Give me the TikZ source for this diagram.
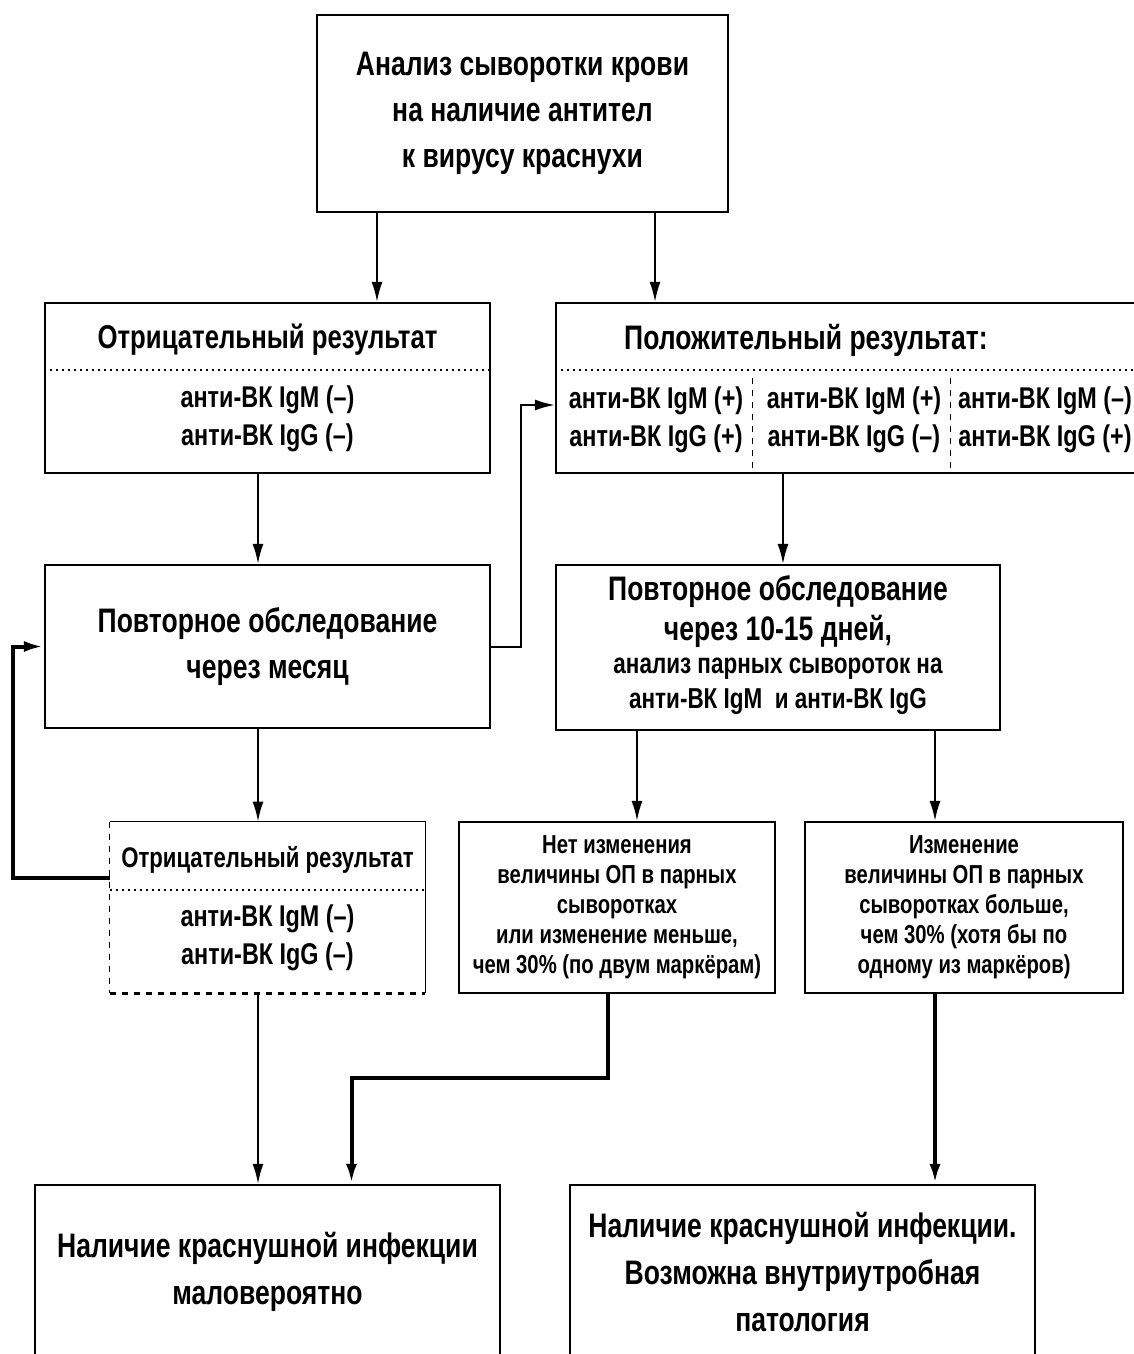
\documentclass[tikz,border=0pt]{standalone}
\usepackage{fontspec}
\setmainfont[FakeStretch=0.78]{Liberation Sans}
\usetikzlibrary{arrows.meta,positioning,calc}

\begin{document}
\begin{tikzpicture}[x=0.5pt,y=-0.5pt,>={Latex[length=10pt,width=5.5pt]},
  box/.style={draw,line width=1.1pt,fill=white,inner sep=0pt},
  big/.style={font=\fontsize{17}{23}\selectfont\bfseries,align=center},
  huge/.style={font=\fontsize{17}{23.5}\selectfont\bfseries,align=center},
  sub/.style={font=\fontsize{15}{19}\selectfont\bfseries,align=center},
  small/.style={font=\fontsize{13}{15}\selectfont\bfseries,align=center},
  link/.style={->,line width=1pt},
  heavy/.style={->,line width=2pt}]
  \useasboundingbox (0,0) rectangle (1134,1354);
  % upper row
  \node[box,big,align=center,minimum width=205.5pt,minimum height=98.5pt] (top) at (522.5,113.5)
    {Анализ сыворотки крови\\на наличие антител\\к вирусу краснухи};
  \node[box,minimum width=222.5pt,minimum height=85pt] (neg1) at (267.5,388) {};
  \node[big,font=\fontsize{16.5}{23}\selectfont\bfseries] (neg1t) at (267.5,340) {Отрицательный результат};
  \node[sub] (neg1r) at (267.5,419) {анти-ВК IgM (–)\\анти-ВК IgG (–)};
  \draw[dotted,line width=1pt] (neg1.west |- 0,370) -- (neg1.east |- 0,370);
  \node[box,minimum width=292pt,minimum height=85pt] (pos) at (848,388) {};
  \node[big] (post) at (806,340) {Положительный результат:};
  \draw[dotted,line width=1pt] (pos.west |- 0,370) -- (pos.east |- 0,370);
  \draw[dashed] (752,378) -- (752,470) (950,378) -- (950,470);
  \foreach \cx/\sm/\sg [count=\i] in {656/+/+, 854/+/–, 1045/–/+}
    \node[sub] (pos\i) at (\cx,420) {анти-ВК IgM (\sm)\\анти-ВК IgG (\sg)};
  % middle row
  \node[box,big,align=center,minimum width=222.5pt,minimum height=81.5pt] (month) at (267.5,646.5)
    {Повторное обследование\\через месяц};
  \node[box,minimum width=222pt,minimum height=82.5pt] (rep) at (778,647.5) {};
  \node[big,font=\fontsize{17}{20}\selectfont\bfseries] (repA) at (778,612) {Повторное обследование\\через 10-15 дней,};
  \node[sub,font=\fontsize{14.4}{17.5}\selectfont\bfseries] (repB) at (778,686) {анализ парных сывороток на\\анти-ВК IgM~~и анти-ВК IgG};
  % lower row
  \node[minimum width=157.5pt,minimum height=85.5pt,fill=white] (neg2) at (267.5,907.5) {};
  \draw[line width=0.8pt] (neg2.north west) -- (neg2.north east) -- (neg2.south east);
  \draw[line width=0.8pt,dashed] (neg2.north west) -- (neg2.south west);
  \draw[line width=1.5pt,dashed] (neg2.south west) -- (neg2.south east);
  \node[big,font=\fontsize{14.2}{19}\selectfont\bfseries] (neg2t) at (267.5,860) {Отрицательный результат};
  \node[sub] (neg2r) at (267.5,938) {анти-ВК IgM (–)\\анти-ВК IgG (–)};
  \draw[dotted,line width=1pt] (neg2.west |- 0,890) -- (neg2.east |- 0,890);
  \node[box,small,align=center,minimum width=158pt,minimum height=85.5pt] (nochg) at (617,907.5)
    {Нет изменения\\величины ОП в парных\\сыворотках\\или изменение меньше,\\чем 30\% (по двум маркёрам)};
  \node[box,small,align=center,minimum width=159pt,minimum height=85.5pt] (chg) at (964,907.5)
    {Изменение\\величины ОП в парных\\сыворотках больше,\\чем 30\% (хотя бы по\\одному из маркёров)};
  % results
  \node[box,huge,align=center,minimum width=232.5pt,minimum height=86.5pt] (resneg) at (267.5,1271.5)
    {Наличие краснушной инфекции\\маловероятно};
  \node[box,huge,align=center,minimum width=232.5pt,minimum height=86.5pt] (respos) at (802.5,1271.5)
    {Наличие краснушной инфекции.\\Возможна внутриутробная\\патология};
  % connectors
  \draw[link] (377,0 |- top.south) -- (377,0 |- neg1.north);
  \draw[link] (655,0 |- top.south) -- (655,0 |- pos.north);
  \draw[link] (258,0 |- neg1.south) -- (258,0 |- month.north);
  \draw[link] (month.east) -- ++(30,0) |- ([yshift=-8.5pt]pos.west);
  \draw[link] (783,0 |- pos.south) -- (783,0 |- rep.north);
  \draw[link] (258,0 |- month.south) -- (258,0 |- neg2.north);
  \draw[heavy] ([yshift=15pt]neg2.west) -- ++(-97,0) |- (month.west);
  \draw[link] (637,0 |- rep.south) -- (637,0 |- nochg.north);
  \draw[link] (935,0 |- rep.south) -- (935,0 |- chg.north);
  \draw[link] (258,0 |- neg2.south) -- (258,0 |- resneg.north);
  \draw[heavy] ([xshift=-4.5pt]nochg.south) -- ++(0,84) -| ([xshift=42pt]resneg.north);
  \draw[heavy] (935,0 |- chg.south) -- (935,0 |- respos.north);
\end{tikzpicture}
\end{document}
